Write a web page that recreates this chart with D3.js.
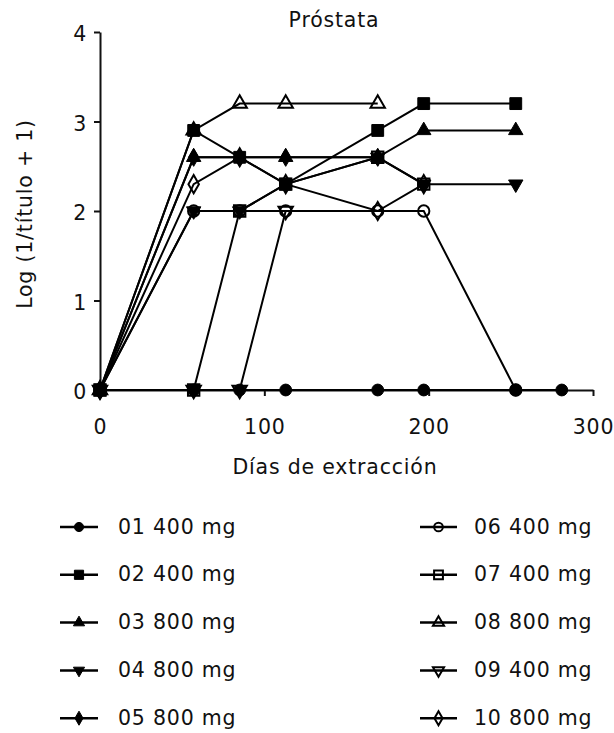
<!DOCTYPE html>
<html><head><meta charset="utf-8">
<script src="https://cdn.jsdelivr.net/npm/d3@7"></script>
<style>
html,body{margin:0;padding:0;background:#fff;}
text{font-family:"DejaVu Sans",Verdana,sans-serif;fill:#111;}
</style></head>
<body><svg id="c" width="614" height="733"></svg>
<script>
// ---- data ----
const title = "Próstata";
const xLabel = "Días de extracción";
const yLabel = "Log (1/título + 1)";
const days = [0, 57, 85, 113, 169, 197, 253, 281];
const xTicks = [0, 100, 200, 300];
const yTicks = [0, 1, 2, 3, 4];
const seriesNames = ["01 400 mg","02 400 mg","03 800 mg","04 800 mg","05 800 mg",
                     "06 400 mg","07 400 mg","08 800 mg","09 400 mg","10 800 mg"];
const s01 = [0, 0, 0, 0, 0, 0, 0, 0];
const s02 = [0, 2.9, 2.6, 2.3, 2.9, 3.2, 3.2];
const s03 = [0, 2.6, 2.6, 2.6, 2.6, 2.9, 2.9];
const s04 = [0, 2.0, 2.0, 2.3, 2.6, 2.3, 2.3];
const s05 = [0, 2.6, 2.6, 2.6, 2.6];
const s06 = [0, 2.0, 2.0, 2.0, 2.0, 2.0, 0];
const s07 = [0, 0, 2.0, 2.3, 2.6, 2.3];
const s08 = [0, 2.9, 3.2, 3.2, 3.2];
const s09 = [0, 0, 0, 2.0];
const s10 = [0, 2.3, 2.6, 2.3, 2.0, 2.3];
const seriesValues = [s01,s02,s03,s04,s05,s06,s07,s08,s09,s10];

// ---- styling (separate from data) ----
const markerStyle = [
  {sym:d3.symbolCircle, rot:0, open:false, size:110},
  {sym:d3.symbolSquare, rot:0, open:false, size:140},
  {sym:d3.symbolTriangle, rot:0, open:false, size:90},
  {sym:d3.symbolTriangle, rot:180, open:false, size:90},
  {sym:d3.symbolDiamond, rot:0, open:false, size:95},
  {sym:d3.symbolCircle, rot:0, open:true, size:100},
  {sym:d3.symbolSquare, rot:0, open:true, size:130},
  {sym:d3.symbolTriangle, rot:0, open:true, size:90},
  {sym:d3.symbolTriangle, rot:180, open:true, size:90},
  {sym:d3.symbolDiamond, rot:0, open:true, size:95}
];

const svg = d3.select("#c");
const x = d3.scaleLinear().domain([0, 300]).range([100, 593]);
const y = d3.scaleLinear().domain([0, 4]).range([390, 32]);
const FS = "20.5px", LS = "0.8px";

// axes
const xAxis = svg.append("g").attr("transform", `translate(0,${y(0)})`)
  .call(d3.axisBottom(x).tickValues(xTicks).tickFormat(d3.format("d")).tickSize(6).tickSizeOuter(0));
const yAxis = svg.append("g").attr("transform", `translate(${x(0)},0)`)
  .call(d3.axisLeft(y).tickValues(yTicks).tickFormat(d3.format("d")).tickSize(6).tickPadding(7).tickSizeOuter(0));
[xAxis, yAxis].forEach(a => {
  a.select(".domain").attr("stroke", "#111").attr("stroke-width", 2);
  a.selectAll(".tick line").attr("stroke", "#111").attr("stroke-width", 2);
  a.selectAll(".tick text").style("font-size", FS).style("letter-spacing", LS)
    .attr("fill", "#111").attr("font-family", null);
});
xAxis.selectAll(".tick text").attr("dy", null).attr("y", 44);
yAxis.selectAll(".tick text").attr("dy", null).attr("y", 8.5);
xAxis.selectAll(".tick").filter(d => d === 0).select("line").remove();

// titles
svg.append("text").attr("x", 334).attr("y", 27).attr("text-anchor", "middle")
  .style("font-size", FS).style("letter-spacing", LS).text(title);
svg.append("text").attr("x", 335).attr("y", 474).attr("text-anchor", "middle")
  .style("font-size", FS).style("letter-spacing", LS).text(xLabel);
svg.append("text").attr("transform", "translate(32,214) rotate(-90)").attr("text-anchor", "middle")
  .style("font-size", FS).style("letter-spacing", LS).text(yLabel);

// lines
const line = d3.line().x(d => x(d[0])).y(d => y(d[1]));
const plot = svg.append("g");
seriesValues.forEach((vals) => {
  const pts = vals.map((v, j) => [days[j], v]);
  plot.append("path").datum(pts).attr("d", line)
    .attr("fill", "none").attr("stroke", "#000").attr("stroke-width", 2);
});
function drawMarker(g, i, cx, cy, scale) {
  const st = markerStyle[i];
  g.append("path")
    .attr("d", d3.symbol().type(st.sym).size(st.size * scale)())
    .attr("transform", `translate(${cx},${cy}) rotate(${st.rot})`)
    .attr("fill", st.open ? "none" : "#000")
    .attr("stroke", "#000").attr("stroke-width", st.open ? 2 : 1);
}
seriesValues.forEach((vals, i) => {
  vals.forEach((v, j) => drawMarker(plot, i, x(days[j]), y(v), 1));
});

// legend
const leg = svg.append("g");
seriesNames.forEach((name, i) => {
  const col = Math.floor(i / 5), row = i % 5;
  const lx0 = col === 0 ? 60 : 420, lx1 = col === 0 ? 98 : 457;
  const tx = col === 0 ? 118 : 474;
  const cy = 527 + row * 47.8;
  leg.append("line").attr("x1", lx0).attr("x2", lx1).attr("y1", cy).attr("y2", cy)
    .attr("stroke", "#000").attr("stroke-width", 2.5);
  drawMarker(leg, i, (lx0 + lx1) / 2, cy, 0.6);
  leg.append("text").attr("x", tx).attr("y", cy + 6.5)
    .style("font-size", FS).style("letter-spacing", LS).text(name);
});
</script></body></html>
